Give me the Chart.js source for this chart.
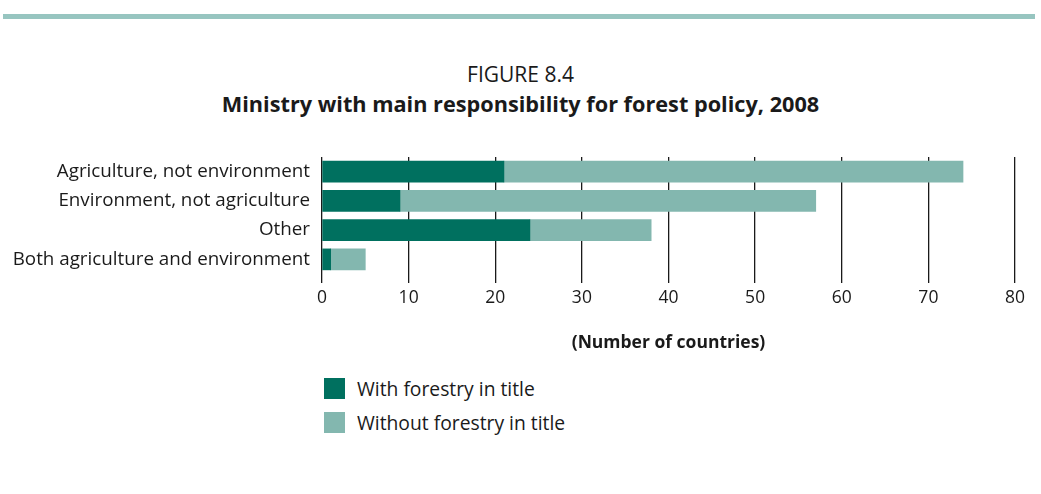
<!DOCTYPE html>
<html>
<head>
<meta charset="utf-8">
<script src="https://cdn.jsdelivr.net/npm/chart.js@4.4.1/dist/chart.umd.min.js"></script>
<style>
  html, body { margin: 0; padding: 0; background: #fff; }
  body { width: 1041px; height: 494px; position: relative; overflow: hidden; font-family: "Open Sans", sans-serif; color: #1a1a1a; }
  .band { position: absolute; left: 3px; top: 14px; width: 1032px; height: 5px; background: #97c5c0; }
  .fig { position: absolute; left: 0; width: 1041px; text-align: center; line-height: 1.3; }
  #fig-no { top: 61px; font-size: 21px; left: 0; }
  #fig-title { top: 90px; font-size: 21.7px; font-weight: bold; left: 0; }
  #wrap { position: absolute; left: 0; top: 140px; width: 1041px; height: 214px; }
  .legend { position: absolute; left: 324px; font-size: 19.3px; line-height: 21px; }
  .legend span { display: inline-block; width: 21px; height: 21px; vertical-align: top; margin-right: 12px; }
</style>
</head>
<body>
<div class="band"></div>
<div class="fig" id="fig-no">FIGURE 8.4</div>
<div class="fig" id="fig-title">Ministry with main responsibility for forest policy, 2008</div>
<div id="wrap"><canvas id="chart"></canvas></div>
<div class="legend" style="top:378px"><span style="background:#00705f"></span>With forestry in title</div>
<div class="legend" style="top:412px"><span style="background:#83b7af"></span>Without forestry in title</div>
<script>
const categories = ["Agriculture, not environment", "Environment, not agriculture", "Other", "Both agriculture and environment"];
const withForestry = [21, 9, 24, 1];
const withoutForestry = [53, 48, 14, 4];
const xTicks = [0, 10, 20, 30, 40, 50, 60, 70, 80];

const ink = "#1a1a1a";

new Chart(document.getElementById("chart"), {
  type: "bar",
  data: {
    labels: categories,
    datasets: [
      { label: "With forestry in title", data: withForestry, backgroundColor: "#00705f" },
      { label: "Without forestry in title", data: withoutForestry, backgroundColor: "#83b7af" }
    ]
  },
  options: {
    indexAxis: "y",
    responsive: true,
    maintainAspectRatio: false,
    animation: false,
    layout: { padding: { top: 17, right: 26, left: 0, bottom: 0 } },
    datasets: { bar: { barThickness: 21, borderWidth: 0 } },
    plugins: {
      legend: { display: false },
      tooltip: { enabled: false }
    },
    scales: {
      x: {
        stacked: true,
        min: 0,
        max: 80,
        afterBuildTicks: axis => { axis.ticks = xTicks.map(v => ({ value: v })); },
        grid: { color: ink, lineWidth: 1.3, tickLength: 9, drawTicks: true },
        border: { display: false },
        ticks: { color: ink, font: { family: "Open Sans", size: 17.5 }, padding: 5 },
        title: {
          display: true,
          text: "(Number of countries)",
          color: ink,
          font: { family: "Open Sans", size: 17.5, weight: "bold" },
          padding: { top: 20, bottom: 0 }
        },
        afterFit: axis => { axis.height = 80; }
      },
      y: {
        stacked: true,
        grid: { display: false, drawTicks: false },
        border: { display: false },
        ticks: { color: ink, font: { family: "Open Sans", size: 18.8 }, padding: 12 },
        afterFit: axis => { axis.width = 322; axis.paddingTop = 0; axis.paddingBottom = 0; }
      }
    }
  }
});
</script>
</body>
</html>
